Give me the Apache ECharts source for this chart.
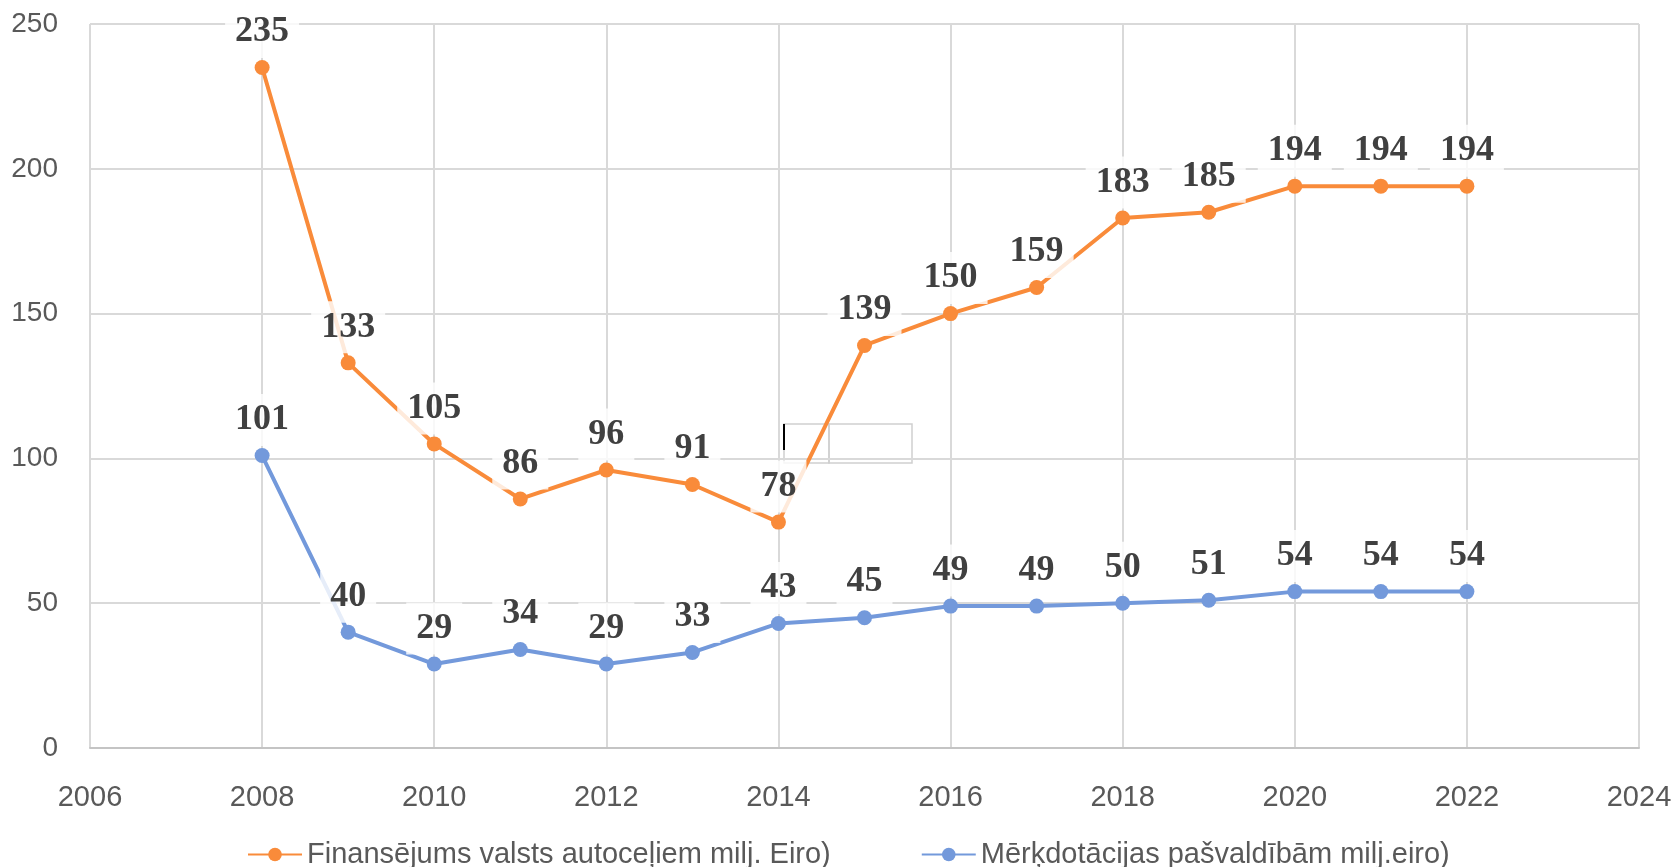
<!DOCTYPE html>
<html>
<head>
<meta charset="utf-8">
<script src="https://cdn.jsdelivr.net/npm/echarts@6/dist/echarts.min.js"></script>
<style>
  html, body { margin: 0; padding: 0; background: #fff; }
  #main { width: 1675px; height: 867px; }
</style>
</head>
<body>
<div id="main"></div>
<script>
var years = [2008, 2009, 2010, 2011, 2012, 2013, 2014, 2015, 2016, 2017, 2018, 2019, 2020, 2021, 2022];
var roadFunding = [235, 133, 105, 86, 96, 91, 78, 139, 150, 159, 183, 185, 194, 194, 194];
var municipalGrants = [101, 40, 29, 34, 29, 33, 43, 45, 49, 49, 50, 51, 54, 54, 54];
var seriesNames = ['Finansējums valsts autoceļiem milj. Eiro)', 'Mērķdotācijas pašvaldībām milj.eiro)'];

function pairs(values) {
  return years.map(function (y, i) { return [y, values[i]]; });
}

var chart = echarts.init(document.getElementById('main'));

var dataLabel = {
  show: true,
  position: 'top',
  distance: 2,
  fontFamily: 'Liberation Serif',
  fontWeight: 'bold',
  fontSize: 36,
  lineHeight: 36,
  color: '#404040',
  backgroundColor: 'rgba(255,255,255,0.82)',
  padding: [8, 10]
};

var option = {
  animation: false,
  grid: { left: 90, right: 36, top: 24, bottom: 119 },
  legend: {
    left: 242,
    top: 835,
    itemWidth: 54,
    itemHeight: 17,
    itemGap: 90,
    textStyle: { fontFamily: 'Liberation Sans', fontSize: 29, color: '#595959' },
    data: seriesNames
  },
  xAxis: {
    type: 'value',
    min: 2006,
    max: 2024,
    interval: 2,
    axisLine: { show: true, lineStyle: { color: '#c4c4c4', width: 2 } },
    axisTick: { show: false },
    splitLine: { show: true, lineStyle: { color: '#d9d9d9', width: 2 } },
    axisLabel: {
      margin: 35,
      fontFamily: 'Liberation Sans',
      fontSize: 29,
      color: '#595959',
      formatter: function (v) { return String(v); }
    }
  },
  yAxis: {
    type: 'value',
    min: 0,
    max: 250,
    interval: 50,
    axisLine: { show: false },
    axisTick: { show: false },
    splitLine: { show: true, lineStyle: { color: '#d9d9d9', width: 2 } },
    axisLabel: {
      margin: 32,
      fontFamily: 'Liberation Sans',
      fontSize: 28,
      color: '#595959'
    }
  },
  graphic: [
    { type: 'rect', shape: { x: 784, y: 424, width: 45, height: 39 }, style: { fill: 'none', stroke: '#d0d0d0', lineWidth: 1.5 } },
    { type: 'rect', shape: { x: 829, y: 424, width: 83, height: 39 }, style: { fill: 'none', stroke: '#d0d0d0', lineWidth: 1.5 } },
    { type: 'line', shape: { x1: 784, y1: 424, x2: 784, y2: 450 }, style: { stroke: '#000', lineWidth: 2 } }
  ],
  series: [
    {
      name: seriesNames[0],
      type: 'line',
      data: pairs(roadFunding),
      symbol: 'circle',
      symbolSize: 15,
      color: '#f98b3a',
      lineStyle: { width: 4 },
      label: dataLabel
    },
    {
      name: seriesNames[1],
      type: 'line',
      data: pairs(municipalGrants),
      symbol: 'circle',
      symbolSize: 15,
      color: '#7399db',
      lineStyle: { width: 4 },
      label: dataLabel
    }
  ]
};

chart.setOption(option);
</script>
</body>
</html>
